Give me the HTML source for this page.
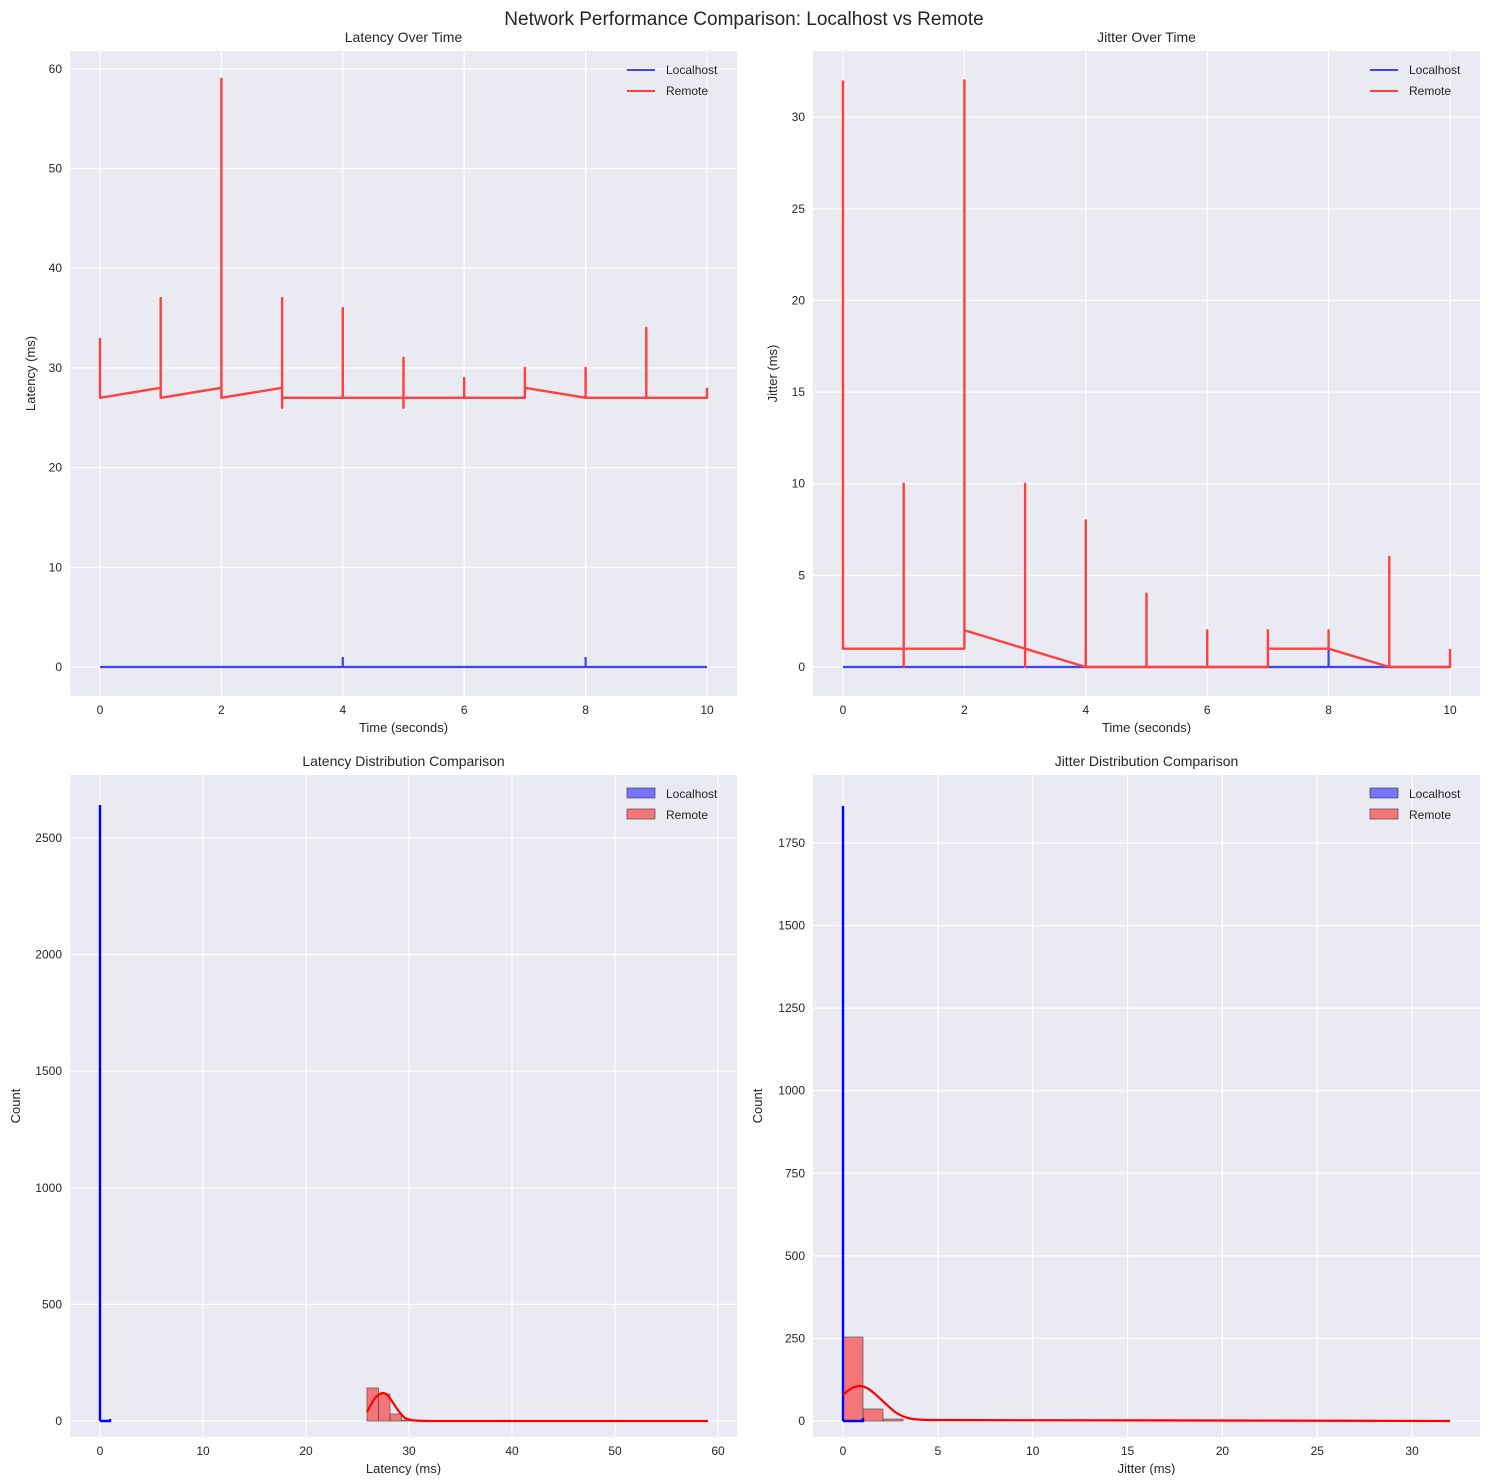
<!DOCTYPE html>
<html><head><meta charset="utf-8"><style>
body{margin:0;background:#fff}
svg text{font-family:"Liberation Sans",Arial,sans-serif;fill:#262626}
</style></head><body>
<svg id="s" width="1489" height="1475" xmlns="http://www.w3.org/2000/svg">
<text x="744" y="25" font-size="19" text-anchor="middle">Network Performance Comparison: Localhost vs Remote</text>
</svg>
<script>
var s=document.getElementById('s'),h='';
function ax(o){
 var L=o.l,R=o.r,T=o.t,B=o.b;
 h+='<rect x="'+L+'" y="'+T+'" width="'+(R-L)+'" height="'+(B-T)+'" fill="#eaeaf2"/>';
 o.xt.forEach(function(v){var x=o.x0+v*o.xs;h+='<line x1="'+x+'" x2="'+x+'" y1="'+T+'" y2="'+B+'" stroke="#fff" stroke-width="1.2"/><text x="'+x+'" y="'+(B+18)+'" font-size="12" text-anchor="middle">'+v+'</text>';});
 o.yt.forEach(function(v){var y=o.y0-v*o.ys;h+='<line x1="'+L+'" x2="'+R+'" y1="'+y+'" y2="'+y+'" stroke="#fff" stroke-width="1.2"/><text x="'+(L-8)+'" y="'+(y+4)+'" font-size="12" text-anchor="end">'+v+'</text>';});
 h+='<text x="'+((L+R)/2)+'" y="'+(T-9)+'" font-size="14" text-anchor="middle">'+o.title+'</text>';
 if(o.xl)h+='<text x="'+((L+R)/2)+'" y="'+(B+36)+'" font-size="13" text-anchor="middle">'+o.xl+'</text>';
 h+='<text transform="translate('+o.ylx+','+((T+B)/2)+') rotate(-90)" font-size="13" text-anchor="middle">'+o.yl+'</text>';
 h+=o.body;
 var lx=R-110,ly=T+19;
 if(o.hist){h+='<rect x="'+lx+'" y="'+(ly-6)+'" width="28" height="10" fill="#0000ff" fill-opacity=".5" stroke="#333" stroke-width=".6"/><rect x="'+lx+'" y="'+(ly+15)+'" width="28" height="10" fill="#ff0000" fill-opacity=".5" stroke="#333" stroke-width=".6"/>';}
 else{h+='<line x1="'+lx+'" x2="'+(lx+28)+'" y1="'+ly+'" y2="'+ly+'" stroke="#4040ff" stroke-width="2"/><line x1="'+lx+'" x2="'+(lx+28)+'" y1="'+(ly+21)+'" y2="'+(ly+21)+'" stroke="#ff4040" stroke-width="2"/>';}
 h+='<text x="'+(lx+39)+'" y="'+(ly+4)+'" font-size="12">Localhost</text><text x="'+(lx+39)+'" y="'+(ly+25)+'" font-size="12">Remote</text>';
}
ax({l:70,r:737,t:51,b:696,ylx:35,x0:100,xs:60.7,y0:667,ys:9.97,xt:[0,2,4,6,8,10],yt:[0,10,20,30,40,50,60],title:'Latency Over Time',xl:'Time (seconds)',yl:'Latency (ms)',
body:'<path d="M100,667 L342.8,667 L342.8,657 L342.8,667 L585.6,667 L585.6,657 L585.6,667 L707,667" fill="none" stroke="#4040ff" stroke-width="2.2"/>'+
'<path d="M100,338 L100,397.8 L160.7,387.8 L160.7,298.1 L160.7,397.8 L221.4,387.8 L221.4,78.8 L221.4,397.8 L282.1,387.8 L282.1,298.1 L282.1,407.8 L282.1,397.8 L342.8,397.8 L342.8,308.1 L342.8,397.8 L403.5,397.8 L403.5,357.9 L403.5,407.8 L403.5,397.8 L464.2,397.8 L464.2,377.9 L464.2,397.8 L524.9,397.8 L524.9,367.9 L524.9,387.8 L585.6,397.8 L585.6,367.9 L585.6,397.8 L646.3,397.8 L646.3,328 L646.3,397.8 L707,397.8 L707,387.8" fill="none" stroke="#ff4040" stroke-width="2.4" stroke-linejoin="round"/>'});
ax({l:813,r:1480,t:51,b:696,ylx:777,x0:843,xs:60.7,y0:667,ys:18.33,xt:[0,2,4,6,8,10],yt:[0,5,10,15,20,25,30],title:'Jitter Over Time',xl:'Time (seconds)',yl:'Jitter (ms)',
body:'<path d="M843,667 L1085.8,667 L1085.8,648.7 L1085.8,667 L1328.6,667 L1328.6,648.7 L1328.6,667 L1450,667" fill="none" stroke="#4040ff" stroke-width="2.2"/>'+
'<path d="M843,80.4 L843,648.7 L903.7,648.7 L903.7,483.7 L903.7,667 L903.7,648.7 L964.4,648.7 L964.4,80.4 L964.4,630.3 L1025.1,648.7 L1025.1,483.7 L1025.1,667 L1025.1,648.7 L1085.8,667 L1085.8,520.4 L1085.8,667 L1146.5,667 L1146.5,593.7 L1146.5,667 L1207.2,667 L1207.2,630.3 L1207.2,667 L1267.9,667 L1267.9,630.3 L1267.9,648.7 L1328.6,648.7 L1328.6,630.3 L1328.6,648.7 L1389.3,667 L1389.3,557 L1389.3,667 L1450,667 L1450,648.7" fill="none" stroke="#ff4040" stroke-width="2.4" stroke-linejoin="round"/>'});
ax({l:70,r:737,t:775,b:1437,ylx:20,x0:100,xs:10.3,y0:1421,ys:0.2332,xt:[0,10,20,30,40,50,60],yt:[0,500,1000,1500,2000,2500],title:'Latency Distribution Comparison',xl:'Latency (ms)',yl:'Count',hist:1,
body:'<g fill="#ff0000" fill-opacity=".5" stroke="#555" stroke-width=".7"><rect x="367" y="1388" width="11.5" height="33"/><rect x="378.5" y="1394" width="11.5" height="27"/><rect x="390" y="1414" width="11.5" height="7"/><rect x="401.5" y="1420" width="11.5" height="1"/></g>'+
'<path d="M100,1421 L100,805 M100,1421 L110,1421 L110,1419" fill="none" stroke="#0000ff" stroke-width="2.4"/>'+
'<path d="M367,1412 C372,1402 377,1393 383,1393 C390,1393 395,1410 405,1418 C410,1421 420,1421 440,1421 L708,1421" fill="none" stroke="#ff0000" stroke-width="2.2"/>'});
ax({l:813,r:1480,t:775,b:1437,ylx:762,x0:843,xs:18.97,y0:1421,ys:0.3303,xt:[0,5,10,15,20,25,30],yt:[0,250,500,750,1000,1250,1500,1750],title:'Jitter Distribution Comparison',xl:'Jitter (ms)',yl:'Count',hist:1,
body:'<g fill="#ff0000" fill-opacity=".5" stroke="#555" stroke-width=".7"><rect x="843" y="1337" width="20" height="84"/><rect x="863" y="1409" width="20" height="12"/><rect x="883" y="1419" width="20" height="2"/></g>'+
'<path d="M843,1421 L843,806 M843,1421 L863,1421 L863,1418" fill="none" stroke="#0000ff" stroke-width="2.4"/>'+
'<path d="M843,1395 C850,1388 855,1386 860,1386 C870,1386 880,1400 895,1412 C905,1419 915,1420 930,1420 L1450,1421" fill="none" stroke="#ff0000" stroke-width="2.2"/>'});
s.insertAdjacentHTML('beforeend',h);
</script>
</body></html>
